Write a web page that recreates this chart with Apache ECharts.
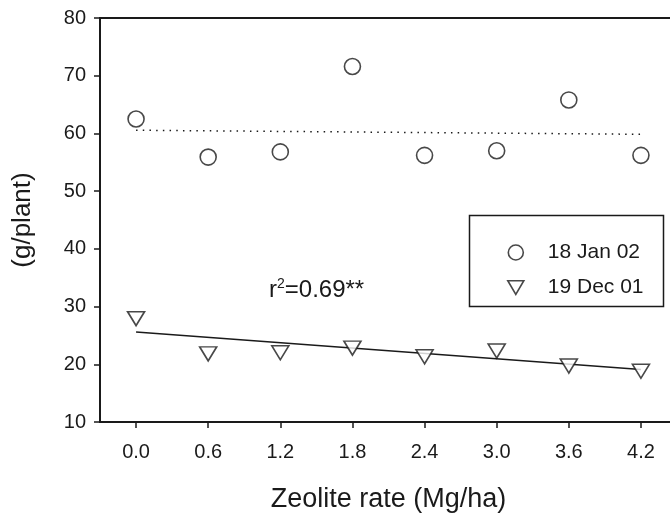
<!DOCTYPE html>
<html>
<head>
<meta charset="utf-8">
<script src="https://cdn.jsdelivr.net/npm/echarts@6/dist/echarts.min.js"></script>
<style>
  html, body { margin: 0; padding: 0; background: #fff; }
  #chart { width: 670px; height: 514px; }
</style>
</head>
<body>
<div id="chart"></div>
<script>
// zeolite rate (Mg/ha)
const rates = [0.0, 0.6, 1.2, 1.8, 2.4, 3.0, 3.6, 4.2];
// g/plant
const jan02 = [62.5, 55.9, 56.8, 71.6, 56.2, 57.0, 65.8, 56.2];
const dec01 = [27.9, 21.8, 22.0, 22.8, 21.3, 22.3, 19.7, 18.8];
// fitted lines (end points)
const janFit = [[0.0, 60.55], [4.2, 59.85]];
const decFit = [[0.0, 25.6], [4.2, 19.1]];
const names = ["18 Jan 02", "19 Dec 01"];

const font = "Liberation Sans, Arial, sans-serif";
const ink = "#1a1a1a";

let chart = echarts.init(document.getElementById("chart"));

let option = {
  animation: false,
  backgroundColor: "#fff",
  grid: {
    left: 100,
    top: 18,
    right: -7,
    bottom: 92,
    outerBoundsMode: "none",
    show: true,
    borderColor: ink,
    borderWidth: 2
  },
  xAxis: {
    type: "value",
    min: -0.3,
    max: 4.5,
    name: "Zeolite rate (Mg/ha)",
    nameLocation: "middle",
    nameGap: 64,
    nameTextStyle: { fontFamily: font, fontSize: 27, color: ink },
    axisLine: { onZero: false, lineStyle: { color: ink, width: 2 } },
    axisTick: {
      show: true,
      length: 6,
      inside: false,
      customValues: rates,
      lineStyle: { color: ink, width: 1.5 }
    },
    axisLabel: {
      customValues: rates,
      margin: 20,
      fontFamily: font,
      fontSize: 20,
      color: ink,
      formatter: v => v.toFixed(1)
    },
    splitLine: { show: false }
  },
  yAxis: {
    type: "value",
    min: 10,
    max: 80,
    interval: 10,
    name: "(g/plant)",
    nameLocation: "middle",
    nameGap: 64,
    nameTextStyle: { fontFamily: font, fontSize: 26, color: ink },
    axisLine: { show: true, onZero: false, lineStyle: { color: ink, width: 2 } },
    axisTick: {
      show: true,
      length: 6,
      lineStyle: { color: ink, width: 1.5 }
    },
    axisLabel: {
      margin: 14,
      fontFamily: font,
      fontSize: 20,
      color: ink
    },
    splitLine: { show: false }
  },
  legend: {
    data: [
      { name: names[0], icon: "circle" },
      { name: names[1], icon: "path://M0,0 L20,0 L10,17 Z" }
    ],
    orient: "vertical",
    left: 502,
    top: 237,
    itemWidth: 16,
    itemHeight: 15,
    itemGap: 14,
    itemStyle: { color: "#fff", borderColor: ink, borderWidth: 1.6 },
    textStyle: {
      fontFamily: font,
      fontSize: 21,
      color: ink,
      padding: [0, 0, 0, 19]
    }
  },
  graphic: [
    {
      type: "rect",
      left: 467,
      top: 213,
      shape: { width: 194, height: 91 },
      style: { fill: "none", stroke: ink, lineWidth: 1.5 },
      z: 10
    },
    {
      type: "text",
      left: 269,
      top: 277,
      style: {
        text: "{b|r}{s|2}{b|=0.69**}",
        fill: ink,
        rich: {
          b: { fontFamily: font, fontSize: 24, color: ink },
          s: { fontFamily: font, fontSize: 14, color: ink, verticalAlign: "top", padding: [0, 0, 12, 0] }
        }
      }
    }
  ],
  series: [
    {
      name: names[0] + " fit",
      type: "line",
      data: janFit,
      symbol: "none",
      lineStyle: { color: ink, width: 1.5, type: [1.5, 5.2] },
      silent: true
    },
    {
      name: names[1] + " fit",
      type: "line",
      data: decFit,
      symbol: "none",
      lineStyle: { color: ink, width: 1.6 },
      silent: true
    },
    {
      name: names[0],
      type: "scatter",
      data: rates.map((x, i) => [x, jan02[i]]),
      symbol: "circle",
      symbolSize: 16,
      itemStyle: { color: "#fff", borderColor: ink, borderWidth: 1.6 },
      z: 3
    },
    {
      name: names[1],
      type: "scatter",
      data: rates.map((x, i) => [x, dec01[i]]),
      symbol: "triangle",
      symbolRotate: 180,
      symbolSize: [17, 14],
      itemStyle: { color: "#fff", borderColor: ink, borderWidth: 1.6 },
      z: 3
    }
  ]
};

chart.setOption(option);
</script>
</body>
</html>
